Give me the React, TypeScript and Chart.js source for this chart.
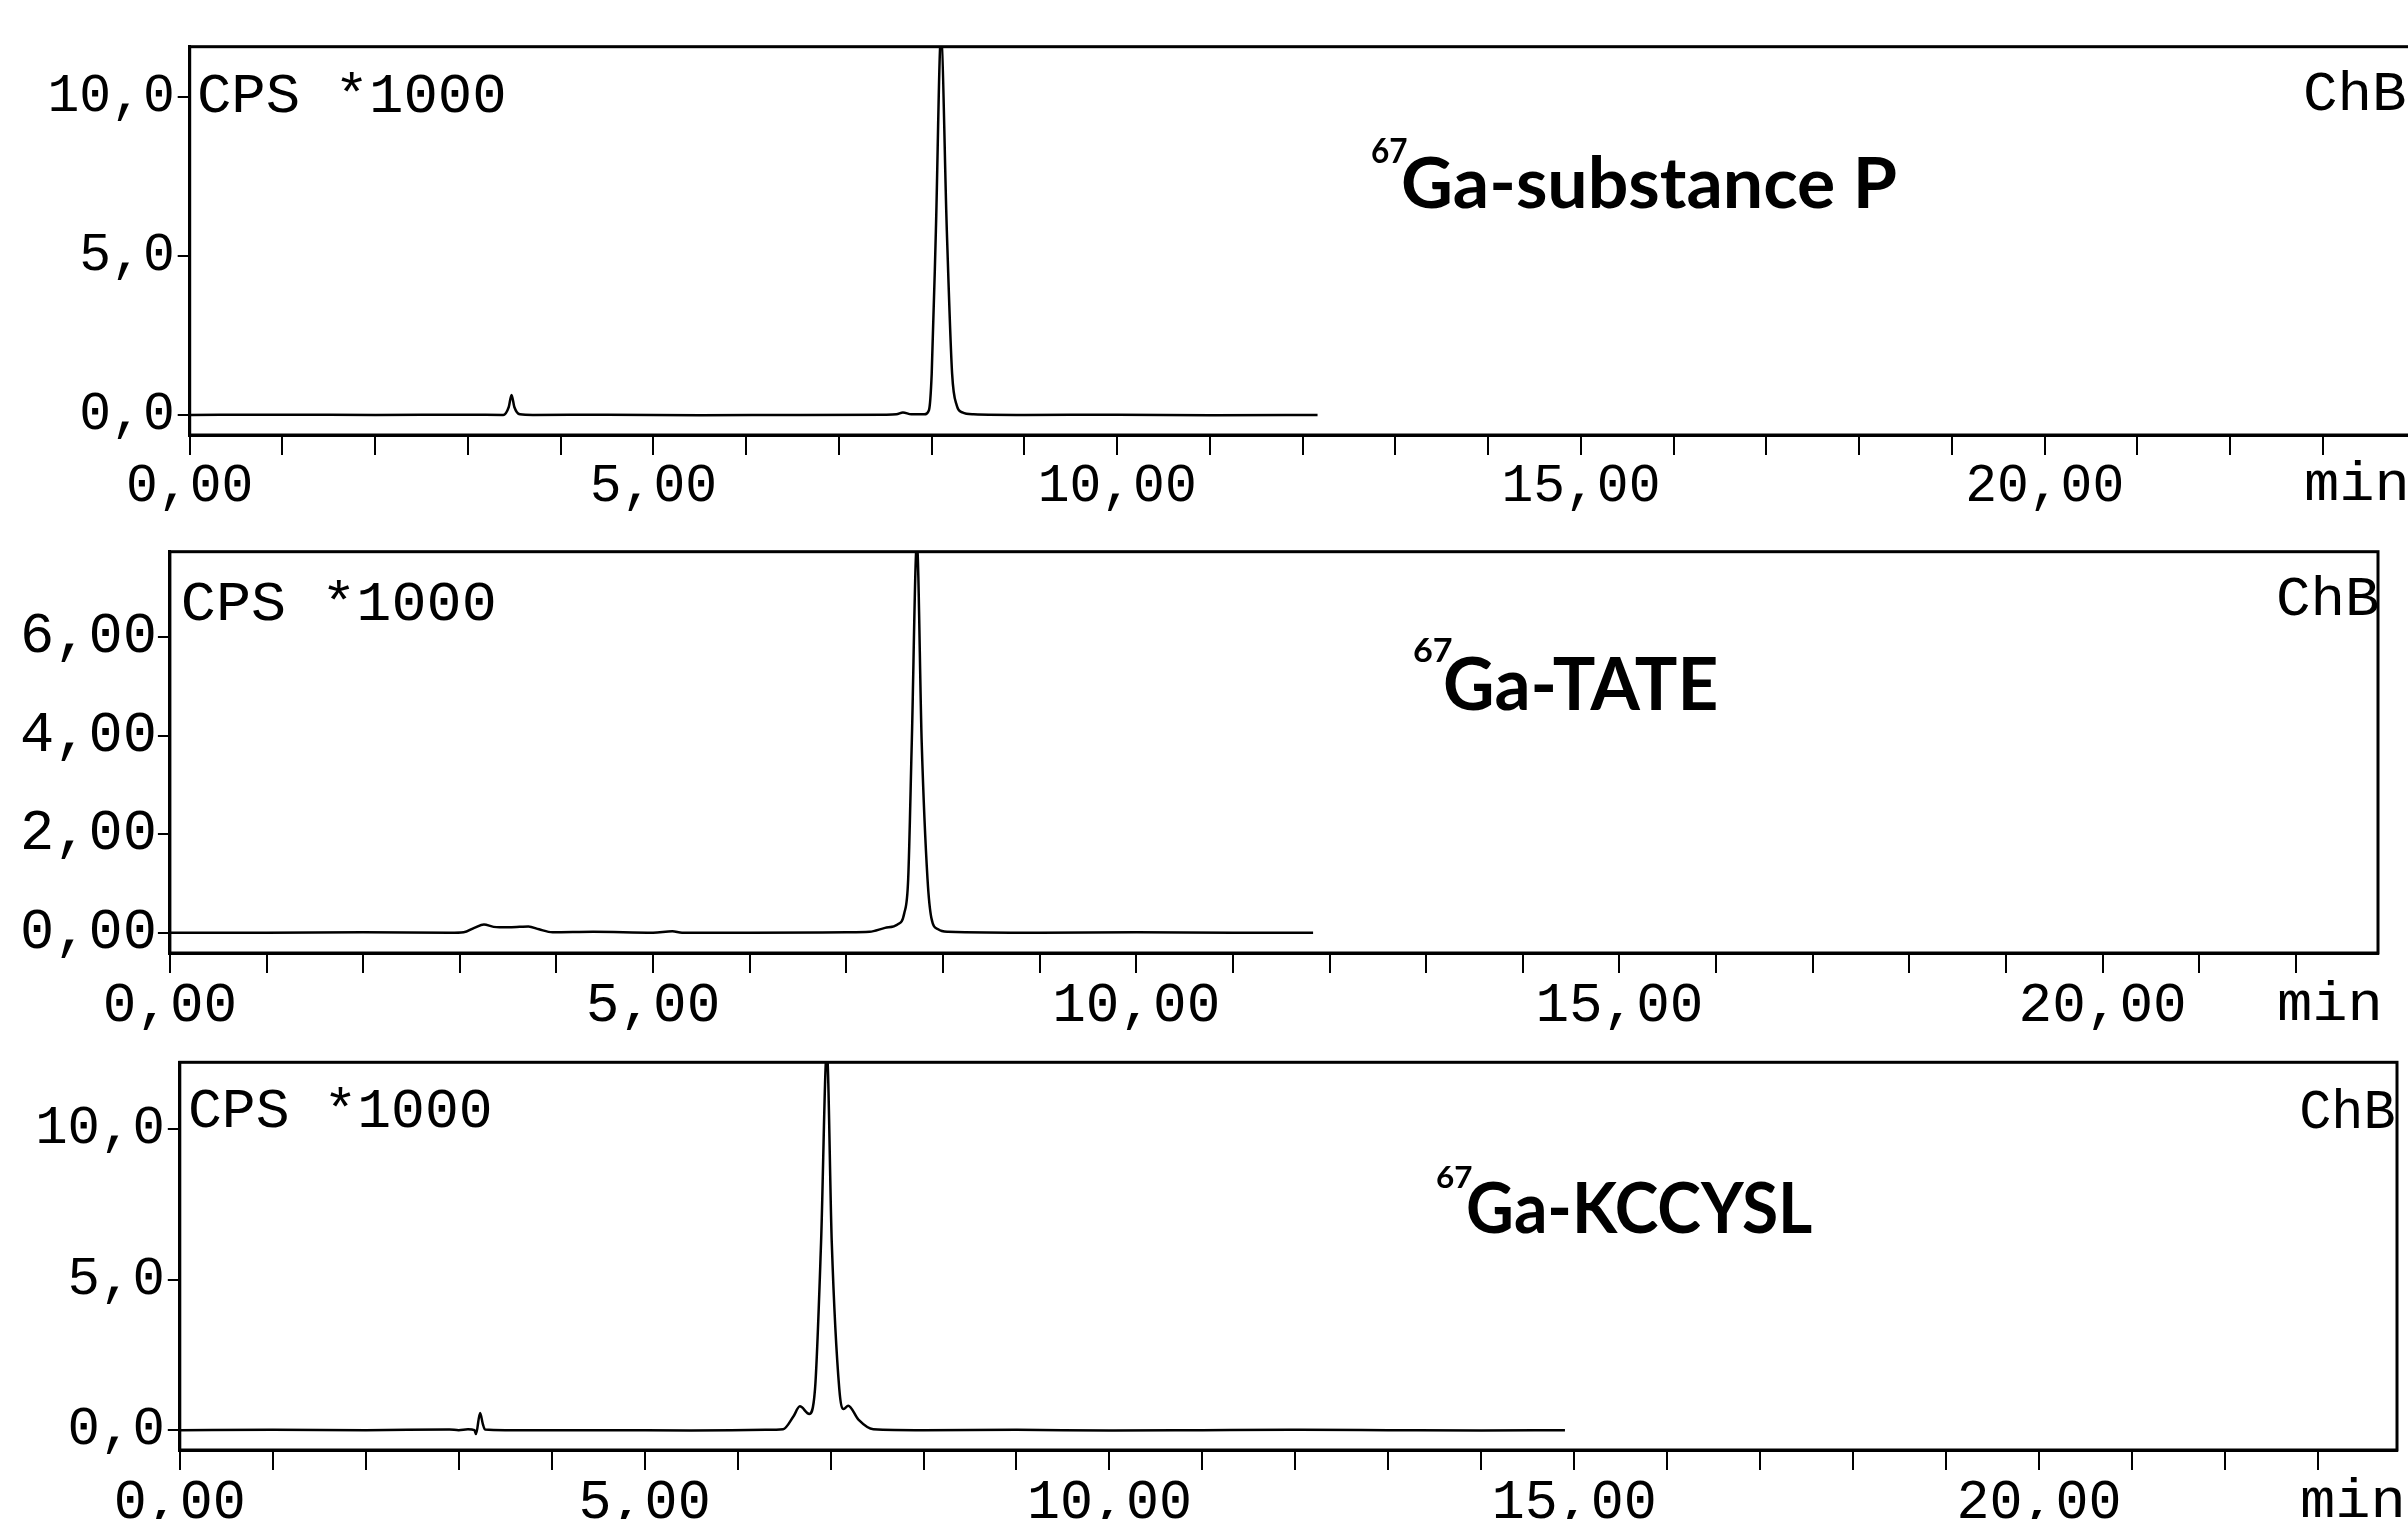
import React, { useEffect, useRef } from "react";
import { Chart, registerables } from "chart.js";

Chart.register(...registerables);

// ---------- DATA ----------
// Panel 1: 67Ga-substance P (time in min, counts in CPS*1000)
const spTime = [0, 1, 2, 3, 3.38, 3.44, 3.47, 3.5, 3.56, 3.7, 4.5, 5.5, 6.5, 7.5, 7.62, 7.69, 7.78, 7.92, 7.97, 8.0, 8.045, 8.1, 8.163, 8.22, 8.27, 8.33, 8.45, 9.0, 10.0, 11.0, 12.16];
const spCps = [0, 0.01, 0, 0.01, 0, 0.25, 0.63, 0.25, 0.02, 0, 0.01, -0.01, 0, 0.01, 0.02, 0.08, 0.02, 0.02, 0.15, 1.3, 5.8, 11.9, 5.8, 1.3, 0.3, 0.08, 0.02, 0, 0.01, -0.01, 0];

// Panel 2: 67Ga-TATE
const tateTime = [0, 1, 2, 2.9, 3.04, 3.15, 3.25, 3.35, 3.5, 3.62, 3.71, 3.82, 3.96, 4.38, 5.0, 5.2, 5.3, 6.0, 7.0, 7.24, 7.4, 7.53, 7.6, 7.64, 7.677, 7.73, 7.78, 7.84, 7.88, 7.95, 8.05, 9.0, 10.0, 11.0, 11.83];
const tateCps = [0, 0, 0.01, 0, 0.01, 0.1, 0.17, 0.12, 0.11, 0.12, 0.13, 0.07, 0.01, 0.02, 0, 0.03, 0, 0, 0.01, 0.02, 0.1, 0.17, 0.4, 1.09, 3.85, 7.9, 3.85, 1.09, 0.3, 0.07, 0.02, 0, 0.01, 0, 0];

// Panel 3: 67Ga-KCCYSL
const kcTime = [0, 1, 2, 2.9, 3.0, 3.1, 3.17, 3.186, 3.23, 3.26, 3.283, 3.5, 4.5, 5.5, 6.3, 6.49, 6.6, 6.67, 6.77, 6.833, 6.898, 6.96, 7.013, 7.094, 7.14, 7.19, 7.3, 7.46, 8.0, 9.0, 10.0, 11.0, 12.0, 13.0, 14.0, 14.9];
const kcCps = [0, 0.01, 0, 0.02, 0, 0.03, 0, -0.13, 0.57, 0.2, 0.02, 0, 0, -0.01, 0.01, 0.03, 0.45, 0.79, 0.54, 1.37, 6.24, 12.6, 6.24, 1.37, 0.7, 0.81, 0.35, 0.03, 0, 0.01, -0.01, 0, 0.01, 0, -0.01, 0];

// Tick values / labels
const yTicksSP = [0, 5, 10];
const yTickLabelsSP = ["0,0", "5,0", "10,0"];
const yTicksTATE = [0, 2, 4, 6];
const yTickLabelsTATE = ["0,00", "2,00", "4,00", "6,00"];
const yTicksKC = [0, 5, 10];
const yTickLabelsKC = ["0,0", "5,0", "10,0"];

const xMinorTicksSP = [0, 1, 2, 3, 4, 5, 6, 7, 8, 9, 10, 11, 12, 13, 14, 15, 16, 17, 18, 19, 20, 21, 22, 23, 24];
const xMinorTicksTATE = [0, 1, 2, 3, 4, 5, 6, 7, 8, 9, 10, 11, 12, 13, 14, 15, 16, 17, 18, 19, 20, 21, 22];
const xMinorTicksKC = [0, 1, 2, 3, 4, 5, 6, 7, 8, 9, 10, 11, 12, 13, 14, 15, 16, 17, 18, 19, 20, 21, 22, 23];
const xLabelTicks = [0, 5, 10, 15, 20];
const xTickLabels = ["0,00", "5,00", "10,00", "15,00", "20,00"];

const isotope = "67";
const titles = ["Ga-substance P", "Ga-TATE", "Ga-KCCYSL"];
const unitLabel = "CPS *1000";
const channelLabel = "ChB";
const timeUnit = "min";

// ---------- LAYOUT (positions / styles) ----------
const MONO = "'Liberation Mono', 'DejaVu Sans Mono', monospace";
const BOLD = "Lato, 'Open Sans', sans-serif";

type TextSpec = { x: number; base: number; w: number };
type PanelLayout = {
  top: number; width: number; height: number;
  area: { left: number; top: number; right: number; bottom: number };
  xMax: number; yMin: number; yMax: number;
  xFont: number; yFont: number; xPad: number; yPad: number;
  cps: TextSpec; chb: TextSpec; min: TextSpec;
  sup: TextSpec & { size: number }; title: TextSpec & { size: number };
};

const layouts: PanelLayout[] = [
  {
    top: 0, width: 2440, height: 520,
    area: { left: 189.7, top: 46.7, right: 2425, bottom: 435 },
    xMax: 24.1, yMin: -0.63, yMax: 11.58, xFont: 53, yFont: 53, xPad: 0, yPad: 3,
    cps: { x: 200, base: 112, w: 304 }, chb: { x: 2306, base: 110, w: 99 }, min: { x: 2306, base: 500, w: 99 },
    sup: { x: 1372, base: 163, w: 35, size: 34 }, title: { x: 1403, base: 208, w: 493, size: 71 },
  },
  {
    top: 500, width: 2408, height: 530,
    area: { left: 169.9, top: 51.7, right: 2378, bottom: 453 },
    xMax: 22.85, yMin: -0.41, yMax: 7.73, xFont: 56, yFont: 57, xPad: 0, yPad: 1,
    cps: { x: 184, base: 120, w: 310 }, chb: { x: 2279, base: 115, w: 99 }, min: { x: 2279, base: 520, w: 99 },
    sup: { x: 1414, base: 162, w: 38, size: 32 }, title: { x: 1445, base: 210, w: 271, size: 72 },
  },
  {
    top: 1010, width: 2408, height: 509,
    area: { left: 179.8, top: 52.3, right: 2397, bottom: 440 },
    xMax: 23.85, yMin: -0.66, yMax: 12.22, xFont: 55, yFont: 54, xPad: 0, yPad: 3,
    cps: { x: 191, base: 117, w: 299 }, chb: { x: 2302, base: 118, w: 92 }, min: { x: 2302, base: 507, w: 99 },
    sup: { x: 1437, base: 178, w: 35, size: 30 }, title: { x: 1468, base: 223, w: 344, size: 70 },
  },
];

const panelData = [
  { time: spTime, cps: spCps, yTicks: yTicksSP, yLabels: yTickLabelsSP, xTicks: xMinorTicksSP, title: titles[0] },
  { time: tateTime, cps: tateCps, yTicks: yTicksTATE, yLabels: yTickLabelsTATE, xTicks: xMinorTicksTATE, title: titles[1] },
  { time: kcTime, cps: kcCps, yTicks: yTicksKC, yLabels: yTickLabelsKC, xTicks: xMinorTicksKC, title: titles[2] },
];

function fitText(ctx: CanvasRenderingContext2D, text: string, spec: TextSpec, font: string) {
  ctx.save();
  ctx.font = font;
  ctx.textAlign = "left";
  ctx.textBaseline = "alphabetic";
  const m = ctx.measureText(text);
  const visW = m.actualBoundingBoxRight + m.actualBoundingBoxLeft;
  const s = visW > 0 ? spec.w / visW : 1;
  ctx.translate(spec.x + m.actualBoundingBoxLeft * s, spec.base);
  ctx.scale(s, 1);
  ctx.fillStyle = "#000";
  ctx.fillText(text, 0, 0);
  ctx.restore();
}

function Panel({ idx }: { idx: number }) {
  const ref = useRef<HTMLCanvasElement | null>(null);
  const L = layouts[idx];
  const D = panelData[idx];

  useEffect(() => {
    const canvas = ref.current;
    if (!canvas) return;
    const xAxisH = L.height - L.area.bottom;

    const framePlugin = {
      id: "frame" + idx,
      afterDraw(chart: any) {
        const { ctx, chartArea } = chart;
        ctx.save();
        ctx.strokeStyle = "#000";
        ctx.lineWidth = 3;
        ctx.strokeRect(chartArea.left, chartArea.top, chartArea.right - chartArea.left, chartArea.bottom - chartArea.top);
        ctx.restore();
        fitText(ctx, unitLabel, L.cps, `56px ${MONO}`);
        fitText(ctx, channelLabel, L.chb, `56px ${MONO}`);
        fitText(ctx, timeUnit, L.min, `56px ${MONO}`);
        fitText(ctx, isotope, L.sup, `bold ${L.sup.size}px ${BOLD}`);
        fitText(ctx, D.title, L.title, `bold ${L.title.size}px ${BOLD}`);
      },
    };

    const chart = new Chart(canvas, {
      type: "line",
      data: {
        datasets: [
          {
            data: D.time.map((t, i) => ({ x: t, y: D.cps[i] })),
            borderColor: "#000",
            borderWidth: 2.5,
            pointRadius: 0,
            cubicInterpolationMode: "monotone",
            fill: false,
          },
        ],
      },
      options: {
        animation: false,
        responsive: false,
        events: [],
        layout: { padding: { left: 0, top: L.area.top, right: L.width - L.area.right, bottom: 0 } },
        plugins: { legend: { display: false }, tooltip: { enabled: false }, title: { display: false } },
        scales: {
          x: {
            type: "linear",
            min: 0,
            max: L.xMax,
            afterBuildTicks: (s: any) => { s.ticks = D.xTicks.map((v) => ({ value: v })); },
            afterFit: (s: any) => { s.height = xAxisH; },
            grid: { drawOnChartArea: false, drawTicks: true, tickLength: 20, color: "#000", tickColor: "#000", lineWidth: 2 },
            border: { display: true, color: "#000", width: 3 },
            ticks: {
              autoSkip: false, maxRotation: 0, minRotation: 0, padding: L.xPad, color: "#000",
              font: { family: MONO, size: L.xFont },
              callback: (v: any) => { const i = xLabelTicks.indexOf(Number(v)); return i >= 0 ? xTickLabels[i] : ""; },
            },
          },
          y: {
            type: "linear",
            min: L.yMin,
            max: L.yMax,
            afterBuildTicks: (s: any) => { s.ticks = D.yTicks.map((v) => ({ value: v })); },
            afterFit: (s: any) => { s.width = L.area.left; },
            grid: { drawOnChartArea: false, drawTicks: true, tickLength: 12, color: "#000", tickColor: "#000", lineWidth: 2 },
            border: { display: true, color: "#000", width: 3 },
            ticks: {
              autoSkip: false, padding: L.yPad, color: "#000",
              font: { family: MONO, size: L.yFont },
              callback: (v: any) => { const i = D.yTicks.indexOf(Number(v)); return i >= 0 ? D.yLabels[i] : ""; },
            },
          },
        },
      } as any,
      plugins: [framePlugin],
    });
    return () => chart.destroy();
  }, [idx]);

  return (
    <canvas
      ref={ref}
      width={L.width}
      height={L.height}
      style={{ position: "absolute", left: 0, top: L.top, width: L.width, height: L.height }}
    />
  );
}

export default function App() {
  return (
    <div style={{ position: "absolute", left: 0, top: 0, width: 2408, height: 1519, overflow: "hidden", background: "#fff" }}>
      <Panel idx={0} />
      <Panel idx={1} />
      <Panel idx={2} />
    </div>
  );
}
